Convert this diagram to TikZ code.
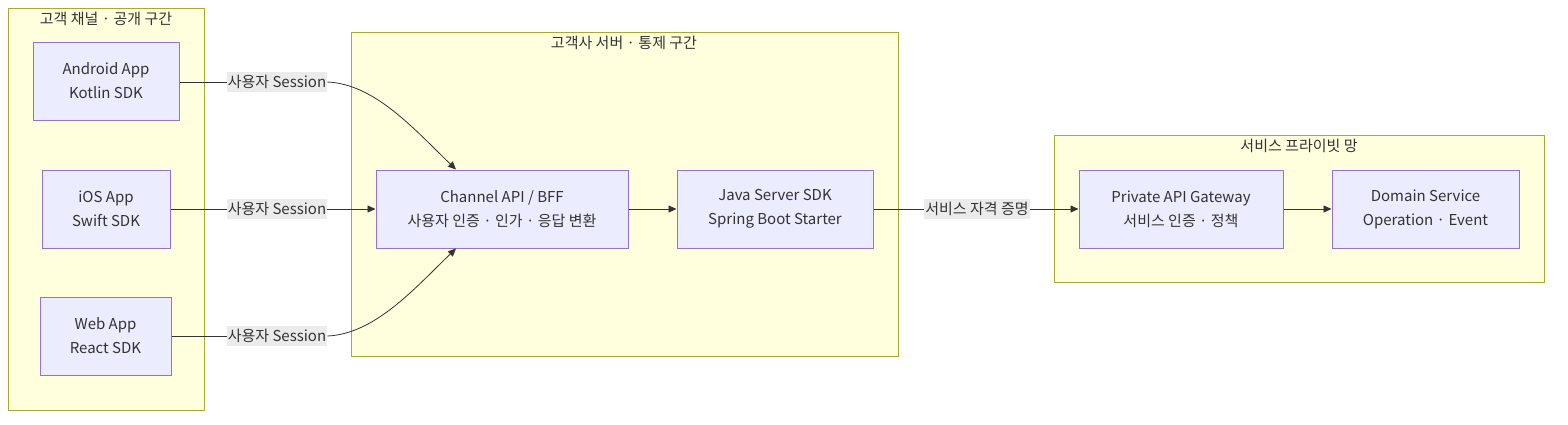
\documentclass[tikz,border=0pt]{standalone}
\usepackage{fontspec}
\setmainfont{Noto Sans CJK KR}
\usetikzlibrary{arrows.meta,calc}
\definecolor{clfill}{HTML}{FFFFDE}
\definecolor{cldraw}{HTML}{AAAA33}
\definecolor{ndfill}{HTML}{ECECFF}
\definecolor{nddraw}{HTML}{9370DB}
\definecolor{txt}{HTML}{333333}
\definecolor{lblbg}{HTML}{E8E8E8}
\begin{document}
\begin{tikzpicture}[x=1pt,y=-1pt,
  font=\fontsize{15}{24}\selectfont, text=txt,
  cluster/.style={draw=cldraw, fill=clfill, line width=1pt},
  ctitle/.style={inner sep=0pt, anchor=center},
  box/.style={draw=nddraw, fill=ndfill, line width=1pt, align=center, inner sep=0pt, minimum height=78pt},
  elabel/.style={fill=lblbg, fill opacity=0.85, text opacity=1, inner sep=1pt, minimum height=20pt},
  conn/.style={draw=txt, line width=0.8pt},
  arr/.style={conn, -{Triangle[length=8pt,width=7pt]}}
]
\useasboundingbox (0,0) rectangle (1568,424);
% clusters
\draw[cluster] (8,8) rectangle (204,410);
\node[ctitle] (t1) at (106,19) {고객 채널 · 공개 구간};
\draw[cluster] (351,32) rectangle (898,356);
\node[ctitle] (t2) at (624,43) {고객사 서버 · 통제 구간};
\draw[cluster] (1054,135) rectangle (1544,282);
\node[ctitle] (t3) at (1299,146) {서비스 프라이빗 망};
% nodes
\node[box, minimum width=146pt] (android) at (106,81) {Android App\\Kotlin SDK};
\node[box, minimum width=128pt] (ios) at (106,209) {iOS App\\Swift SDK};
\node[box, minimum width=131pt] (web) at (105.5,336) {Web App\\React SDK};
\node[box, minimum width=252pt] (channel) at (502,209) {Channel API / BFF\\사용자 인증 · 인가 · 응답 변환};
\node[box, minimum width=196pt] (java) at (775,209) {Java Server SDK\\Spring Boot Starter};
\node[box, minimum width=204pt] (gw) at (1181,209) {Private API Gateway\\서비스 인증 · 정책};
\node[box, minimum width=187pt] (domain) at (1425.5,209) {Domain Service\\Operation · Event};
% edge labels
\node[elabel] (l1) at (277,82) {사용자 Session};
\node[elabel] (l2) at (277,209) {사용자 Session};
\node[elabel] (l3) at (277,336) {사용자 Session};
\node[elabel] (l4) at (977,209) {서비스 자격 증명};
% connectors
\draw[conn] (android.east |- l1) -- (l1.west);
\draw[arr] (l1.east) .. controls (375,84) and (415,130) .. ([xshift=-46pt]channel.north);
\draw[conn] (ios.east) -- (l2.west);
\draw[arr] (l2.east) -- (channel.west);
\draw[conn] (web.east) -- (l3.west);
\draw[arr] (l3.east) .. controls (375,334) and (415,288) .. ([xshift=-46pt]channel.south);
\draw[arr] (channel.east) -- (java.west);
\draw[conn] (java.east) -- (l4.west);
\draw[arr] (l4.east) -- (gw.west);
\draw[arr] (gw.east) -- (domain.west);
\end{tikzpicture}
\end{document}
